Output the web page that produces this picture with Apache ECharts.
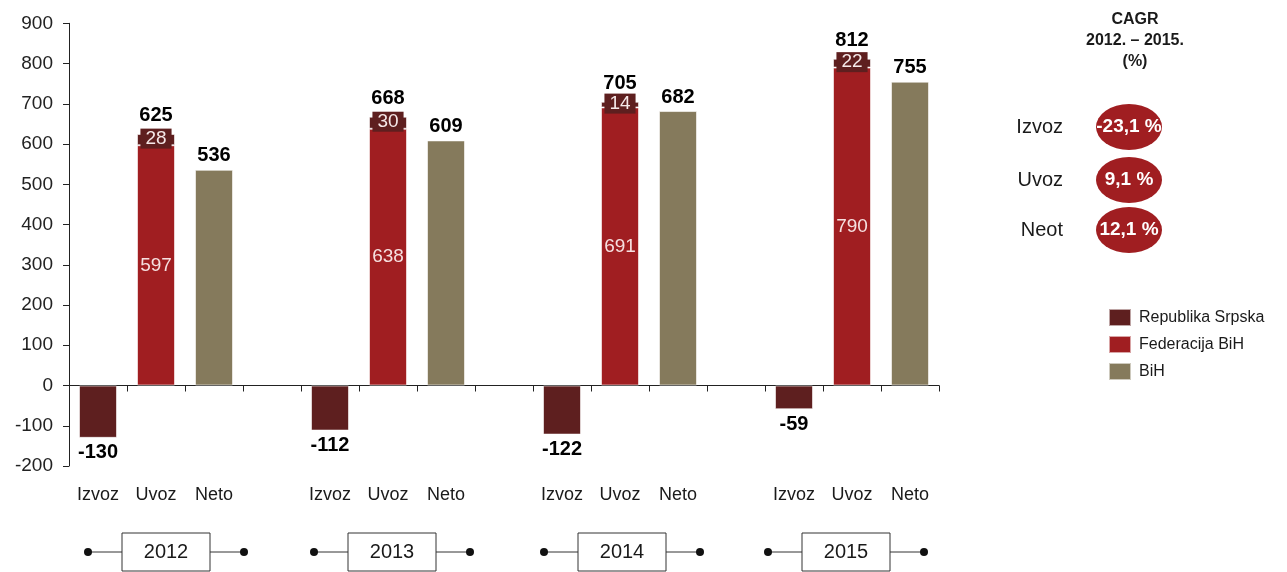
<!DOCTYPE html>
<html>
<head>
<meta charset="utf-8">
<script src="https://cdn.jsdelivr.net/npm/echarts@6/dist/echarts.min.js"></script>
<style>
  html, body { margin: 0; padding: 0; background: #fff; }
  #chart { width: 1287px; height: 572px; }
</style>
</head>
<body>
<div id="chart"></div>
<script>
// ---- data ----
const groupLabels = ['Izvoz', 'Uvoz', 'Neto'];
const years = ['2012', '2013', '2014', '2015'];
const izvozRS = [-130, -112, -122, -59];      // Republika Srpska (Izvoz)
const uvozFed = [597, 638, 691, 790];         // Federacija BiH (Uvoz)
const uvozRS = [28, 30, 14, 22];              // Republika Srpska (Uvoz)
const uvozTotal = [625, 668, 705, 812];       // Uvoz total labels
const netoBiH = [536, 609, 682, 755];         // BiH (Neto)
const yTicks = [-200, -100, 0, 100, 200, 300, 400, 500, 600, 700, 800, 900];
const legendNames = ['Republika Srpska', 'Federacija BiH', 'BiH'];
const cagrLabels = ['Izvoz', 'Uvoz', 'Neot'];
const cagrValues = [-23.1, 9.1, 12.1];

// ---- style ----
const C_RS = '#5E1F1F';
const C_FED = '#A01E21';
const C_BIH = '#857A5C';
const FONT = '"Liberation Sans", Arial, sans-serif';
const TXT = '#1a1a1a';

// categories: 3 per year + blank gap between years
const categories = [];
years.forEach((y, i) => {
  groupLabels.forEach(g => categories.push(g));
  if (i < years.length - 1) categories.push('');
});
const n = categories.length;
function blank() { return new Array(n).fill('-'); }
function idx(yearIdx, k) { return yearIdx * 4 + k; }

const rsData = blank(), fedData = blank(), bihData = blank(), totData = blank();
years.forEach((y, i) => {
  rsData[idx(i, 0)] = {
    value: izvozRS[i],
    label: { show: true, position: 'bottom', distance: 5, color: '#000', fontWeight: 'bold', fontSize: 20 }
  };
  rsData[idx(i, 1)] = {
    value: uvozRS[i],
    label: { show: true, position: 'inside', color: '#f5e8e8', fontSize: 19,
             backgroundColor: C_RS, padding: [1, 5, 0, 5], offset: [0, -1] }
  };
  fedData[idx(i, 1)] = uvozFed[i];
  totData[idx(i, 1)] = uvozTotal[i];
  bihData[idx(i, 2)] = netoBiH[i];
});

const chart = echarts.init(document.getElementById('chart'), null, { renderer: 'canvas' });

// annotation graphics (year boxes, CAGR panel)
const graphics = [];
const boxCenters = [166, 392, 622, 846];
years.forEach((y, i) => {
  const cx = boxCenters[i], cy = 552, bw = 88, bh = 38, half = 78;
  graphics.push({ type: 'line', shape: { x1: cx - half, y1: cy, x2: cx + half, y2: cy },
                  style: { stroke: '#333', lineWidth: 1 }, z: 10 });
  graphics.push({ type: 'rect', shape: { x: cx - bw / 2, y: cy - bh / 2, width: bw, height: bh },
                  style: { fill: '#fff', stroke: '#333', lineWidth: 1 }, z: 11 });
  graphics.push({ type: 'text', x: cx, y: cy, z: 12,
                  style: { text: y, fill: TXT, font: '20px ' + FONT, textAlign: 'center', textVerticalAlign: 'middle' } });
  graphics.push({ type: 'circle', shape: { cx: cx - half, cy: cy, r: 4 }, style: { fill: '#111' }, z: 12 });
  graphics.push({ type: 'circle', shape: { cx: cx + half, cy: cy, r: 4 }, style: { fill: '#111' }, z: 12 });
});
graphics.push({ type: 'text', x: 1135, y: 9, z: 10,
  style: { text: 'CAGR\n2012. – 2015.\n(%)', fill: TXT, font: 'bold 16px ' + FONT,
           textAlign: 'center', lineHeight: 21 } });
const cagrY = [127, 180, 230];
cagrLabels.forEach((lab, i) => {
  graphics.push({ type: 'text', x: 1063, y: cagrY[i], z: 10,
    style: { text: lab, fill: TXT, font: '20px ' + FONT, textAlign: 'right', textVerticalAlign: 'middle' } });
  graphics.push({ type: 'circle', x: 1129, y: cagrY[i], scaleX: 33 / 23, shape: { cx: 0, cy: 0, r: 23 },
    style: { fill: C_FED }, z: 10 });
  graphics.push({ type: 'text', x: 1129, y: cagrY[i], z: 11,
    style: { text: cagrValues[i].toFixed(1).replace('.', ',') + ' %', fill: '#fff', font: 'bold 19px ' + FONT,
             textAlign: 'center', textVerticalAlign: 'middle' } });
});

const option = {
  animation: false,
  backgroundColor: '#fff',
  textStyle: { fontFamily: FONT },
  grid: { left: 69, right: 348, top: 23.3, bottom: 106, containLabel: false },
  legend: {
    data: legendNames, orient: 'vertical', left: 1108, top: 308, padding: 0,
    itemWidth: 22, itemHeight: 17, itemGap: 8, icon: 'rect', selectedMode: false,
    textStyle: { fontSize: 16, color: TXT, fontFamily: FONT, padding: [0, 0, 0, 3] }
  },
  xAxis: [
    {
      type: 'category', data: categories, position: 'bottom',
      axisLine: { onZero: true, lineStyle: { color: '#222', width: 1 } },
      axisTick: { show: true, length: 6, lineStyle: { color: '#222' } },
      axisLabel: { show: false }, splitLine: { show: false }
    },
    {
      type: 'category', data: categories, position: 'bottom',
      axisLine: { show: false, onZero: false }, axisTick: { show: false },
      axisLabel: { show: true, interval: 0, margin: 20, fontSize: 18, color: TXT, fontFamily: FONT }
    }
  ],
  yAxis: {
    type: 'value', min: yTicks[0], max: yTicks[yTicks.length - 1], interval: 100,
    axisLine: { show: true, lineStyle: { color: '#222', width: 1 } },
    axisTick: { show: true, length: 6, lineStyle: { color: '#222' } },
    axisLabel: { fontSize: 19, color: '#222', margin: 16, fontFamily: FONT },
    splitLine: { show: false }
  },
  series: [
    {
      name: 'Federacija BiH', type: 'bar', stack: 'a', xAxisIndex: 0, data: fedData,
      barWidth: 38,
      itemStyle: { color: C_FED, borderColor: 'rgba(255,255,255,0.6)', borderWidth: 1 },
      label: { show: true, position: 'inside', color: '#f6e0e0', fontSize: 19 }
    },
    {
      name: 'Republika Srpska', type: 'bar', stack: 'a', xAxisIndex: 0, data: rsData,
      barWidth: 38,
      itemStyle: { color: C_RS, borderColor: 'rgba(255,255,255,0.6)', borderWidth: 1 },
      z: 3
    },
    {
      name: 'BiH', type: 'bar', stack: 'b', xAxisIndex: 0, data: bihData,
      barWidth: 38, barGap: '-100%',
      itemStyle: { color: C_BIH, borderColor: 'rgba(255,255,255,0.6)', borderWidth: 1 },
      label: { show: true, position: 'top', distance: 4, color: '#000', fontWeight: 'bold', fontSize: 20 }
    },
    {
      name: 'Uvoz ukupno', type: 'scatter', xAxisIndex: 0, data: totData,
      symbolSize: 0, silent: true, z: 5,
      itemStyle: { opacity: 1 },
      label: { show: true, position: 'top', distance: 8, color: '#000', fontWeight: 'bold', fontSize: 20, opacity: 1 }
    }
  ],
  graphic: graphics
};
chart.setOption(option);
</script>
</body>
</html>
